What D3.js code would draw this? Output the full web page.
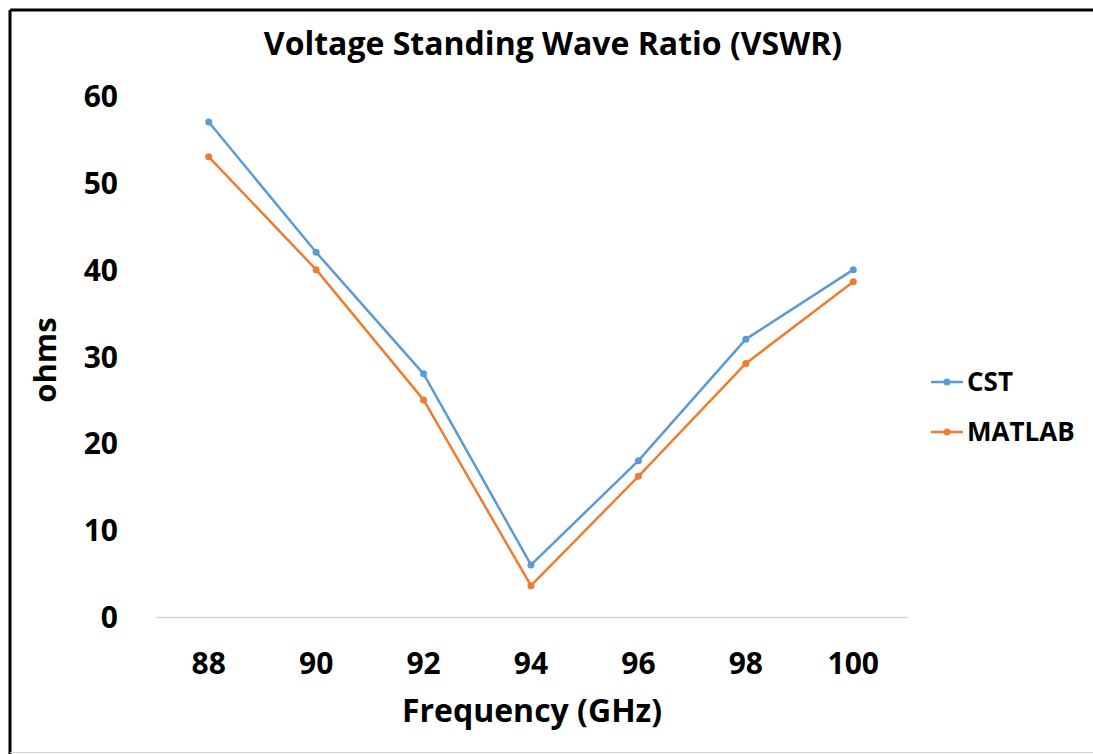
<!DOCTYPE html>
<meta charset="utf-8">
<style>
  body { margin: 0; background: #fff; }
  text { font-family: "Open Sans", sans-serif; font-weight: bold; fill: #000; }
</style>
<div id="chart"></div>
<script src="https://d3js.org/d3.v7.min.js"></script>
<script>

var freqs = ["88", "90", "92", "94", "96", "98", "100"];
var cst = [57, 42, 28, 6, 18, 32, 40];
var matlab = [53, 40, 25, 3.6, 16.2, 29.2, 38.6];
var yTicks = [0, 10, 20, 30, 40, 50, 60];

var seriesNames = ["CST", "MATLAB"];
var colors = ["#5b9bd5", "#ed7d31"];

var W = 1093, H = 754;
var plot = {left: 155, right: 907, top: 96, bottom: 617};

var svg = d3.select("#chart")
  .append("svg")
    .attr("width", W)
    .attr("height", H);

svg.append("rect").attr("width", W).attr("height", H).attr("fill", "#fff");

// frame
svg.append("line").attr("x1", 10).attr("x2", W).attr("y1", 10).attr("y2", 10)
  .attr("stroke", "#000").attr("stroke-width", 3);
svg.append("line").attr("x1", 10).attr("x2", 10).attr("y1", 10).attr("y2", H)
  .attr("stroke", "#000").attr("stroke-width", 3);
svg.append("line").attr("x1", 10).attr("x2", W).attr("y1", 752.5).attr("y2", 752.5)
  .attr("stroke", "#d0d0d0").attr("stroke-width", 1);

var x = d3.scaleBand()
  .domain(freqs)
  .range([plot.left, plot.right]);

var y = d3.scaleLinear()
  .domain([0, 60])
  .range([plot.bottom, plot.top]);

// x axis
var xAxis = svg.append("g")
  .attr("transform", "translate(0," + plot.bottom + ")")
  .call(d3.axisBottom(x).tickSize(0).tickPadding(48));
xAxis.select(".domain").attr("stroke", "#d9d9d9").attr("stroke-width", 1.5);
xAxis.selectAll("text").style("font-size", "30px").attr("dy", "0.3em");

// y axis
var yAxis = svg.append("g")
  .attr("transform", "translate(118,0)")
  .call(d3.axisLeft(y).tickValues(yTicks).tickSize(0).tickPadding(0));
yAxis.select(".domain").remove();
yAxis.selectAll("text").style("font-size", "30px").attr("dy", "0.35em");

// title & labels
svg.append("text")
  .attr("x", 553).attr("y", 55)
  .attr("text-anchor", "middle")
  .style("font-size", "32px")
  .text("Voltage Standing Wave Ratio (VSWR)");

svg.append("text")
  .attr("x", 532).attr("y", 722)
  .attr("text-anchor", "middle")
  .style("font-size", "32px")
  .text("Frequency (GHz)");

svg.append("text")
  .attr("transform", "translate(56,360) rotate(-90)")
  .attr("text-anchor", "middle")
  .style("font-size", "31px")
  .text("ohms");

// series
var series = [cst, matlab];
var line = d3.line()
  .x(function(d, i) { return x(freqs[i]) + x.bandwidth() / 2; })
  .y(function(d) { return y(d); });

series.forEach(function(vals, s) {
  svg.append("path")
    .datum(vals)
    .attr("fill", "none")
    .attr("stroke", colors[s])
    .attr("stroke-width", 2.5)
    .attr("stroke-linejoin", "round")
    .attr("d", line);

  svg.selectAll(".pt" + s)
    .data(vals)
    .enter()
    .append("circle")
    .attr("cx", function(d, i) { return x(freqs[i]) + x.bandwidth() / 2; })
    .attr("cy", function(d) { return y(d); })
    .attr("r", 3.5)
    .attr("fill", colors[s]);
});

// legend
var legend = svg.selectAll(".legend")
  .data(seriesNames)
  .enter()
  .append("g")
  .attr("transform", function(d, i) { return "translate(931," + (382 + i * 50) + ")"; });

legend.append("line")
  .attr("x1", 0).attr("x2", 32)
  .attr("stroke", function(d, i) { return colors[i]; })
  .attr("stroke-width", 2.5);
legend.append("circle")
  .attr("cx", 16).attr("r", 3.5)
  .attr("fill", function(d, i) { return colors[i]; });
legend.append("text")
  .attr("x", 36).attr("dy", "0.35em")
  .style("font-size", "26px")
  .text(function(d) { return d; });

</script>
